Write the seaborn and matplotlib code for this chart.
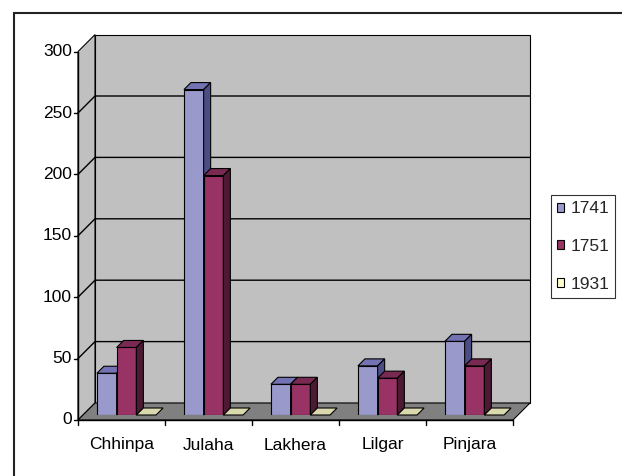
import numpy as np
import pandas as pd
import matplotlib
matplotlib.use("Agg")
import matplotlib.pyplot as plt
import seaborn as sns
from matplotlib.patches import Polygon, Patch, Rectangle
from matplotlib.lines import Line2D
from matplotlib.transforms import IdentityTransform

################################################
#                 Data
################################################
castes = ["Chhinpa", "Julaha", "Lakhera", "Lilgar", "Pinjara"]
years = ["1741", "1751", "1931"]
counts_1741 = [34, 265, 25, 40, 60]
counts_1751 = [55, 195, 25, 30, 40]
counts_1931 = [0, 0, 0, 0, 0]
y_ticks = [0, 50, 100, 150, 200, 250, 300]

front_colors = {"1741": "#9999CC", "1751": "#993366", "1931": "#FFFFCC"}
top_colors = {"1741": "#7373B3", "1751": "#7A2952", "1931": "#D9D9AD"}
side_colors = {"1741": "#4D4D85", "1751": "#4D1A33", "1931": "#8C8C6E"}

df = pd.DataFrame({
    "caste": castes * 3,
    "year": np.repeat(years, len(castes)),
    "count": counts_1741 + counts_1751 + counts_1931,
})

################################################
#                 Figure
################################################
sns.set_style("white")
plt.rcParams["font.family"] = ["Liberation Sans", "DejaVu Sans"]

W, H = 622, 476
FRONT, DEPTH, BACK = -5, 7, 12   # depth offsets in pixels
FS = 12.5

fig = plt.figure(figsize=(W / 100, H / 100), dpi=100)
ax = fig.add_axes([83 / W, 61 / H, 435 / W, 368.4 / H])
sns.barplot(data=df, x="caste", y="count", hue="year", palette=front_colors,
            saturation=1, width=0.68, edgecolor="black", linewidth=0.8,
            legend=False, ax=ax)
ax.set_xlim(-0.5, len(castes) - 0.5)
ax.set_ylim(y_ticks[0], y_ticks[-1])
ax.set_autoscale_on(False)
ax.axis("off")

# remember which year each bar belongs to before adding other patches
bar_years = []
for yr, cont in zip(years, ax.containers):
    for bar in cont:
        bar_years.append((bar, yr))
bar_years.sort(key=lambda b: b[0].get_x())

xmin, xmax = ax.get_xlim()
ymax = y_ticks[-1]


def pt(xd, yd, depth=0):
    x, y = ax.transData.transform((xd, yd))
    return (x + depth, y + depth)


def face(points, color, z, lw=0.8):
    ax.add_patch(Polygon(points, closed=True, facecolor=color, edgecolor="black",
                         linewidth=lw, transform=IdentityTransform(),
                         clip_on=False, zorder=z))


def line(points, z=0.6, lw=1.0, color="black"):
    xs, ys = zip(*points)
    ax.add_line(Line2D(xs, ys, color=color, linewidth=lw,
                       transform=IdentityTransform(), clip_on=False, zorder=z))


# walls and floor
face([pt(xmin, 0, BACK), pt(xmax, 0, BACK), pt(xmax, ymax, BACK), pt(xmin, ymax, BACK)], "#C0C0C0", 0.2)
face([pt(xmin, 0, FRONT), pt(xmin, 0, BACK), pt(xmin, ymax, BACK), pt(xmin, ymax, FRONT)], "#C0C0C0", 0.3)
face([pt(xmin, 0, FRONT), pt(xmax, 0, FRONT), pt(xmax, 0, BACK), pt(xmin, 0, BACK)], "#808080", 0.4)

# gridlines on the walls
for t in y_ticks[1:-1]:
    line([pt(xmin, t, FRONT), pt(xmin, t, BACK), pt(xmax, t, BACK)], lw=1.0)

# value axis
line([pt(xmin, 0, FRONT), pt(xmin, ymax, FRONT)], z=0.7, lw=1.0)
for t in y_ticks:
    x, y = pt(xmin, t, FRONT)
    line([(x - 4, y), (x, y)], z=0.7)
    ax.text(x - 6, y, str(t), transform=IdentityTransform(), ha="right",
            va="center", fontsize=FS, color="black")

# category axis
line([pt(xmin, 0, FRONT), pt(xmax, 0, FRONT)], z=0.7, lw=1.0)
for i in range(len(castes) + 1):
    x, y = pt(xmin + i, 0, FRONT)
    line([(x, y), (x, y - 5)], z=0.7)
for i, name in enumerate(castes):
    x, y = pt(i, 0, FRONT)
    ax.text(x, y - 25, name, transform=IdentityTransform(), ha="center",
            va="center", fontsize=FS, color="black")

# 3d faces of the bars
for k, (bar, yr) in enumerate(bar_years):
    z = 2 + k * 0.1
    x0 = bar.get_x()
    x1 = x0 + bar.get_width()
    h = bar.get_height()
    bar.set_zorder(z)
    face([pt(x0, h), pt(x1, h), pt(x1, h, DEPTH), pt(x0, h, DEPTH)], top_colors[yr], z + 0.05)
    if h > 0:
        face([pt(x1, 0), pt(x1, h), pt(x1, h, DEPTH), pt(x1, 0, DEPTH)], side_colors[yr], z + 0.05)

# legend
handles = [Patch(facecolor=front_colors[y], edgecolor="black", linewidth=0.8, label=y) for y in years]
leg = fig.legend(handles=handles, loc="center", bbox_to_anchor=(583 / W, 1 - 246.5 / H),
                 frameon=True, fancybox=False, edgecolor="black", fontsize=FS,
                 handlelength=0.45, handleheight=0.45, handletextpad=0.35,
                 labelspacing=1.3, borderpad=0.35, borderaxespad=0)
leg.get_frame().set_linewidth(0.8)

# outer chart border
fig.add_artist(Rectangle((14 / W, -0.5), 2, 1.5 - 13 / H, transform=fig.transFigure,
                         fill=False, edgecolor="#222222", linewidth=1.5))

fig.savefig("out.png", dpi=100)
